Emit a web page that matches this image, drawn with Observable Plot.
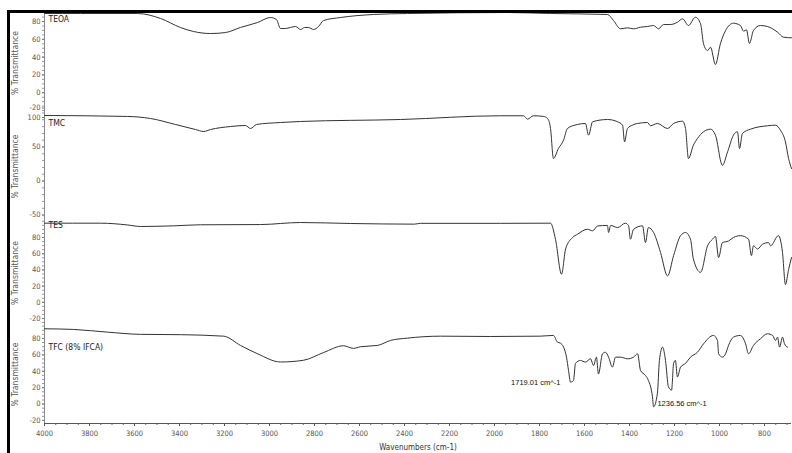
<!DOCTYPE html>
<html><head><meta charset="utf-8">
<script src="https://cdn.jsdelivr.net/npm/d3@7"></script>
<script src="https://cdn.jsdelivr.net/npm/@observablehq/plot@0.6"></script>
<style>
body{margin:0;background:#fff;}
#chart{position:relative;width:792px;height:453px;background:#fff;overflow:hidden;}
#chart svg{position:absolute;left:0;background:transparent;overflow:visible;}
.bt{position:absolute;background:#000;}
</style></head><body><div id="chart"></div>
<script>
// ---- data (wavenumber in cm-1, % transmittance) ----
const xTicks = [4000,3800,3600,3400,3200,3000,2800,2600,2400,2200,2000,1800,1600,1400,1200,1000,800];

const teoaWn = [4000,3840,3587,3484,3396,3338,3262,3196,3129,3053,2996,2969,2951,2929,2907,2884,2862,2844,2827,2804,2782,2760,2684,2538,2387,1942,1751,1498,1471,1440,1409,1382,1351,1320,1293,1271,1249,1218,1187,1164,1138,1107,1084,1071,1053,1040,1018,996,973,938,907,893,880,867,849,818,787,742,716,680];
const teoaT  = [89,89,89,83.4,73.3,68.8,66.5,67.6,73.3,78.9,84.5,82.2,72.1,72.1,73.3,74.4,71,73.3,73.3,71,74.4,81.1,84.5,87.9,89,90.1,89,87.9,81.1,71.8,72.9,71.8,73.6,74.4,75.5,71.8,76.6,76.6,79.2,83,75.5,84.8,77.4,55,47.4,51.1,31.7,55,69.9,78.1,75.5,69.1,70.7,55.4,69.9,75.5,74.4,68,62.4,61.7];

const tmcWn = [4000,3631,3529,3418,3329,3293,3262,3173,3107,3084,3058,2951,2862,2418,1973,1871,1853,1827,1782,1764,1751,1738,1716,1693,1676,1631,1596,1582,1564,1498,1453,1431,1422,1409,1387,1364,1320,1307,1276,1231,1204,1164,1151,1138,1116,1098,1071,1040,1018,987,964,938,920,911,898,862,787,751,729,707,693,680];
const tmcT  = [96.3,94.9,91.9,83.1,75.7,72.8,75.7,80.1,81.6,77.2,83.1,86,87.5,90.4,95.9,95.9,90.9,95.9,94.9,91.9,77.2,33.1,47.8,60,77.2,83.1,84.6,67.4,87.1,90.4,87.1,82.1,57.6,77.2,82.1,84.6,86,81.2,84.6,77.2,84.6,87.9,77.2,33.1,52.6,62.5,72.4,76.2,67.4,23.2,42.9,67.4,72.4,47.8,69.9,76.2,81.2,82.1,74.7,57.6,33.1,18.4];

const tesWn = [4000,3751,3631,3573,3427,3307,3040,2862,2640,2356,2329,1973,1751,1729,1702,1684,1653,1631,1587,1564,1542,1498,1493,1484,1453,1418,1404,1396,1382,1342,1329,1316,1293,1262,1231,1204,1173,1151,1129,1116,1084,1053,1031,1018,1004,987,960,938,907,871,858,849,831,809,782,773,738,720,707,693,680];
const tesT  = [97.7,97.7,95.5,93.6,94.4,95.7,96,98.5,97.3,96.5,97.5,97.5,97.7,77.9,34.7,65.8,80,84.1,90.2,88.3,94.2,94.9,86.2,94.9,92.3,97.7,94.4,77.9,90.2,94.4,73.8,92.3,86.2,61.5,32.6,57.7,82.3,86.2,77.9,53.4,37,69.8,77.9,81.2,55.3,73.7,75.7,80,82.3,77.9,57.7,69.8,65.8,71.7,73.7,69.8,82.3,61.5,22,40.4,55.3];

const tfcWn = [4000,3871,3720,3573,3396,3204,3129,3053,2951,2849,2760,2671,2627,2596,2520,2462,2387,2240,2018,1796,1738,1720,1707,1693,1680,1671,1662,1649,1640,1618,1596,1573,1560,1547,1538,1520,1507,1493,1476,1462,1440,1409,1382,1364,1351,1329,1316,1298,1293,1276,1267,1253,1240,1227,1213,1204,1196,1187,1173,1151,1129,1098,1071,1027,1009,1004,987,973,960,938,907,884,871,849,818,787,764,751,742,733,720,711,698];
const tfcT  = [91.8,91,87.7,85,84.6,82.8,71.5,61.3,51.3,53.4,62.8,71.1,67.9,69.9,71.5,77.6,80.4,82.8,82.4,82.8,83.7,75.5,74.3,69.4,57.2,41,26.7,28.8,49.6,53.2,51.2,55.2,47,57.2,36.8,61.3,63.2,57.2,45.1,57.2,57.2,55.2,57.2,61.3,41,34.9,28.8,8.9,-3.3,13.1,53.2,69.4,53.2,21.1,17,49.6,53.2,33,45.1,49.6,57.2,63.2,73.4,83.7,77.6,61.3,57.2,61.3,71.5,81.6,83.7,73.4,61.3,71.5,79.6,85.7,83.7,77.6,81.6,69.4,81.6,73.4,69.4];

const yTicksA = [80,60,40,20,0,-20];
const yTicksTmc = [100,50,0,-50];

const annoWn   = [1707, 1276];
const annoT    = [26, 1];
const annoText = ["1719.01 cm^-1", "1236.56 cm^-1"];

// ---- layout ----
const FONT = "'DejaVu Sans','Liberation Sans',Arial,sans-serif";
const panels = [
  {name:"TEOA", wn:teoaWn, t:teoaT, ticks:yTicksA, minor:5, top:13, height:99, domain:[-22.2,89], nameDy:6, shift:{"-20":-2.5}},
  {name:"TMC", wn:tmcWn, t:tmcT, ticks:yTicksTmc, minor:10, top:112, height:108, domain:[-58,100.7], nameDy:11, shift:{"100":4.5}},
  {name:"TES", wn:tesWn, t:tesT, ticks:yTicksA, minor:5, top:220, height:105, domain:[-28.6,101], nameDy:5, shift:{}},
  {name:"TFC (8% IFCA)", wn:tfcWn, t:tfcT, ticks:yTicksA, minor:5, top:325, height:98, domain:[-23.7,95.8], nameDy:22, shift:{}}
];
const xDomain = [4000, 680];
const chart = document.getElementById("chart");

panels.forEach((p, i) => {
  const last = i === panels.length - 1;
  const data = p.wn.map((w, j) => ({wn: w, t: p.t[j]}));
  const [lo, hi] = p.domain;
  const minor = d3.range(Math.ceil(lo / p.minor) * p.minor, hi, p.minor);
  const plain = p.ticks.filter(v => !(String(v) in p.shift));
  const marks = [
    Plot.ruleX([xDomain[0]], {stroke: "#888", strokeWidth: 1}),
    Plot.axisY(minor, {tickSize: 2, text: null, label: null, stroke: "#999"}),
    Plot.axisY(plain, {tickSize: 2, tickPadding: 2, label: null, tickFormat: d => String(d), fill: "#555", stroke: "#777"})
  ];
  for (const k of Object.keys(p.shift)) {
    marks.push(Plot.axisY([+k], {tickSize: 2, tickPadding: 2, label: null, tickFormat: d => String(d), fill: "#555", stroke: "#777", dy: p.shift[k]}));
  }
  marks.push(
    Plot.line(data, {x: "wn", y: "t", stroke: "#333", strokeWidth: 1, curve: "monotone-x"}),
    Plot.text([p.name], {text: d => d, frameAnchor: "top-left", dx: 4, dy: p.nameDy, textAnchor: "start", lineAnchor: "middle", fontSize: 8.5, fill: "#222"}),
    Plot.text(["% Transmittance"], {text: d => d, frameAnchor: "left", dx: -29, rotate: -90, textAnchor: "middle", lineAnchor: "middle", fontSize: 8.5, fill: "#555"})
  );
  if (last) {
    const xMinor = d3.range(4000, 680, -50);
    const annos = annoWn.map((w, j) => ({wn: w, t: annoT[j], s: annoText[j], j}));
    marks.push(
      Plot.ruleY([lo], {stroke: "#555", strokeWidth: 1}),
      Plot.axisX(xMinor, {tickSize: 2, text: null, label: null, stroke: "#666"}),
      Plot.axisX(xTicks, {tickSize: 3, tickPadding: 4, label: null, tickFormat: d => String(d), fill: "#555", stroke: "#555"}),
      Plot.text(["Wavenumbers (cm-1)"], {text: d => d, frameAnchor: "bottom", dy: 24, lineAnchor: "middle", fontSize: 8, fill: "#333"}),
      Plot.text(annos.filter(d => d.j === 0), {x: "wn", y: "t", text: "s", textAnchor: "end", lineAnchor: "middle", fontSize: 7.5, fontFamily: "'Liberation Sans',Arial,sans-serif", fill: "#111"}),
      Plot.text(annos.filter(d => d.j === 1), {x: "wn", y: "t", text: "s", textAnchor: "start", lineAnchor: "middle", fontSize: 7.5, fontFamily: "'Liberation Sans',Arial,sans-serif", fill: "#111"})
    );
  }
  const svg = Plot.plot({
    width: 792,
    height: p.height + (last ? 30 : 0),
    marginLeft: 44, marginRight: 1, marginTop: 0, marginBottom: last ? 30 : 0,
    x: {domain: xDomain, axis: last ? undefined : null},
    y: {domain: p.domain},
    style: {fontFamily: FONT, fontStretch: "condensed", fontSize: "7.5px", background: "transparent", overflow: "visible", color: "#555"},
    marks
  });
  svg.style.top = p.top + "px";
  chart.appendChild(svg);
});

// frame borders of the scanned sheet
const topBar = document.createElement("div");
topBar.className = "bt"; topBar.style.cssText = "left:7px;top:10px;width:785px;height:3px;";
const leftBar = document.createElement("div");
leftBar.className = "bt"; leftBar.style.cssText = "left:7px;top:10px;width:3px;height:443px;";
chart.appendChild(topBar); chart.appendChild(leftBar);
</script>
</body></html>
